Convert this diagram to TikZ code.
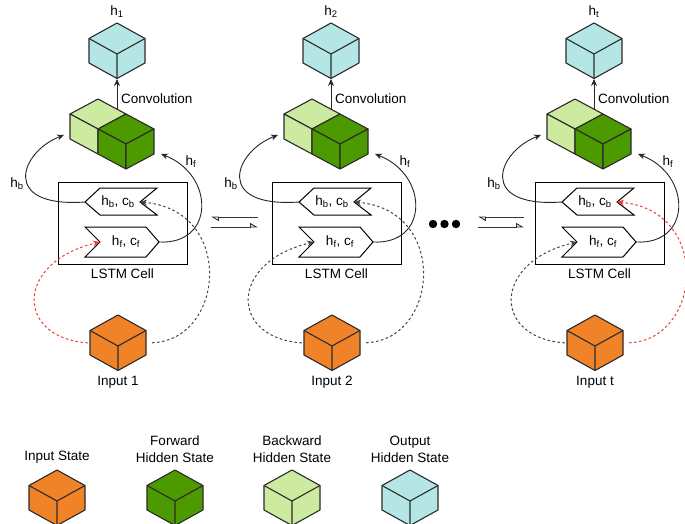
\documentclass[tikz,border=0pt]{standalone}
\usepackage{fontspec}
\setmainfont{Liberation Sans}
\usetikzlibrary{arrows.meta}
\definecolor{orangec}{HTML}{F08228}
\definecolor{darkg}{HTML}{4D9900}
\definecolor{lightg}{HTML}{CDEBA0}
\definecolor{cyanc}{HTML}{B5E6E6}
\definecolor{redd}{HTML}{EE3B3B}
\definecolor{edgec}{HTML}{2B2B2B}
\definecolor{dotg}{HTML}{444444}
\tikzset{
  cubeline/.style={draw=edgec, line width=1.1pt, line join=round},
  cubebox/.style={inner sep=0pt, minimum width=56pt, minimum height=55.5pt},
  lbl/.style={font=\fontsize{13.5}{17}\selectfont, text=black, inner sep=1pt},
  flow/.style={line width=0.9pt, draw=black!85},
  tipst/.style={-{Stealth[length=7pt,width=6pt]}},
  dotflow/.style={line width=1pt, dash pattern=on 2.5pt off 2.5pt},
  statebox/.style={draw=black, line width=1pt, fill=white, line join=miter},
  halfarrow/.style={line width=0.9pt, draw=black!80, -{Triangle[open,left,length=7pt,width=8pt]}},
  dotnode/.style={circle, fill=black, inner sep=0pt, minimum size=8.4pt},
}
\newcommand\mycube[3]{%
  \filldraw[cubeline, fill=#3, shift={#2}] (0,-28) -- (28,-12.5) -- (28,12) -- (0,27.5) -- (-28,12) -- (-28,-12.5) -- cycle;
  \draw[cubeline, shift={#2}] (-28,-12.5) -- (0,3) -- (28,-12.5) (0,3) -- (0,27.5);
  \node[cubebox] (#1) at #2 {};%
}
\newcommand\panel[6]{%
\begin{scope}[xshift=#2pt]
  \node[lbl] (hl#1) at (117,12) {h\textsubscript{#3}};
  \mycube{o#1}{(117,51)}{cyanc}
  \begin{scope}[shift={(98,99)}]
    \filldraw[cubeline, fill=lightg] (0,0) -- (28,15) -- (0,30) -- (-28,15) -- cycle;
    \filldraw[cubeline, fill=lightg] (-28,15) -- (0,30) -- (0,55) -- (-28,40) -- cycle;
    \filldraw[cubeline, fill=darkg] (28,15) -- (56,30) -- (28,45) -- (0,30) -- cycle;
    \filldraw[cubeline, fill=darkg] (0,30) -- (28,45) -- (28,70) -- (0,55) -- cycle;
    \filldraw[cubeline, fill=darkg] (28,45) -- (56,30) -- (56,55) -- (28,70) -- cycle;
  \end{scope}
  \node[inner sep=0pt, minimum width=84pt, minimum height=70pt] (g#1) at (112,134) {};
  \coordinate (cv#1) at (117,109.5);
  \coordinate (gl#1) at (64,135);
  \coordinate (gr#1) at (161,154);
  \draw[flow, tipst] (cv#1) -- (o#1.south);
  \node[lbl, anchor=west] (cl#1) at (120,99) {Convolution};
  \node[draw=black, line width=1pt, minimum width=129pt, minimum height=82pt, inner sep=0pt] (box#1) at (122.5,223) {};
  \node[lbl] (lc#1) at (122.5,274) {LSTM Cell};
  \filldraw[statebox] (85,202) -- (100,188) -- (157,188) -- (140,202) -- (157,215) -- (100,215) -- cycle;
  \node[lbl] (hb#1) at (118,202) {h\textsubscript{b}, c\textsubscript{b}};
  \filldraw[statebox] (85,227) -- (146,227) -- (159,242) -- (146,257) -- (85,257) -- (100,242) -- cycle;
  \node[lbl] (hf#1) at (126,242) {h\textsubscript{f}, c\textsubscript{f}};
  \coordinate (hbtip#1) at (85,202);
  \coordinate (hbnotch#1) at (140,202);
  \coordinate (hftip#1) at (159,242);
  \coordinate (hfnotch#1) at (100,242);
  \draw[flow, tipst] (hbtip#1) .. controls (0,208) and (20,152) .. (gl#1);
  \draw[flow, tipst] (hftip#1) .. controls (215,245) and (215,175) .. (gr#1);
  \node[lbl] (lb#1) at (17,184) {h\textsubscript{b}};
  \node[lbl] (lf#1) at (191,162) {h\textsubscript{f}};
  \mycube{in#1}{(118,343)}{orangec}
  \node[lbl] (il#1) at (118,382) {Input #4};
  \draw[dotflow, draw=#5, tipst, shorten <=2pt] (in#1.west) .. controls (15,338) and (15,262) .. (hfnotch#1);
  \draw[dotflow, draw=#6, tipst, shorten <=6pt] (in#1.east) .. controls (225,340) and (235,210) .. (hbnotch#1);
\end{scope}}
\begin{document}
\begin{tikzpicture}[x=1pt, y=-1pt]
  \useasboundingbox (0,0) rectangle (685,524);
  \fill[white] (0,0) rectangle (685,524);
  \panel{1}{0}{1}{1}{redd}{dotg}
  \panel{2}{214}{2}{2}{dotg}{dotg}
  \panel{3}{477}{t}{t}{dotg}{redd}
  % half arrows between cells
  \coordinate (a1s) at (258,217); \coordinate (a1e) at (211,217);
  \coordinate (a2s) at (211,227); \coordinate (a2e) at (258,227);
  \coordinate (a3s) at (524,217); \coordinate (a3e) at (478,217);
  \coordinate (a4s) at (478,227); \coordinate (a4e) at (524,227);
  \draw[halfarrow] (a1s) -- (a1e);
  \draw[halfarrow] (a2s) -- (a2e);
  \draw[halfarrow] (a3s) -- (a3e);
  \draw[halfarrow] (a4s) -- (a4e);
  \node[dotnode] (d1) at (433,224) {};
  \node[dotnode] (d2) at (444.5,224) {};
  \node[dotnode] (d3) at (456,224) {};
  % legend
  \node[lbl] (leg1) at (57,457) {Input State};
  \node[lbl, align=center] (leg2) at (175,449) {Forward\\Hidden State};
  \node[lbl, align=center] (leg3) at (292,449) {Backward\\Hidden State};
  \node[lbl, align=center] (leg4) at (410,449) {Output\\Hidden State};
  \mycube{c1}{(57,498)}{orangec}
  \mycube{c2}{(175,498)}{darkg}
  \mycube{c3}{(292,498)}{lightg}
  \mycube{c4}{(410,498)}{cyanc}
\end{tikzpicture}
\end{document}
